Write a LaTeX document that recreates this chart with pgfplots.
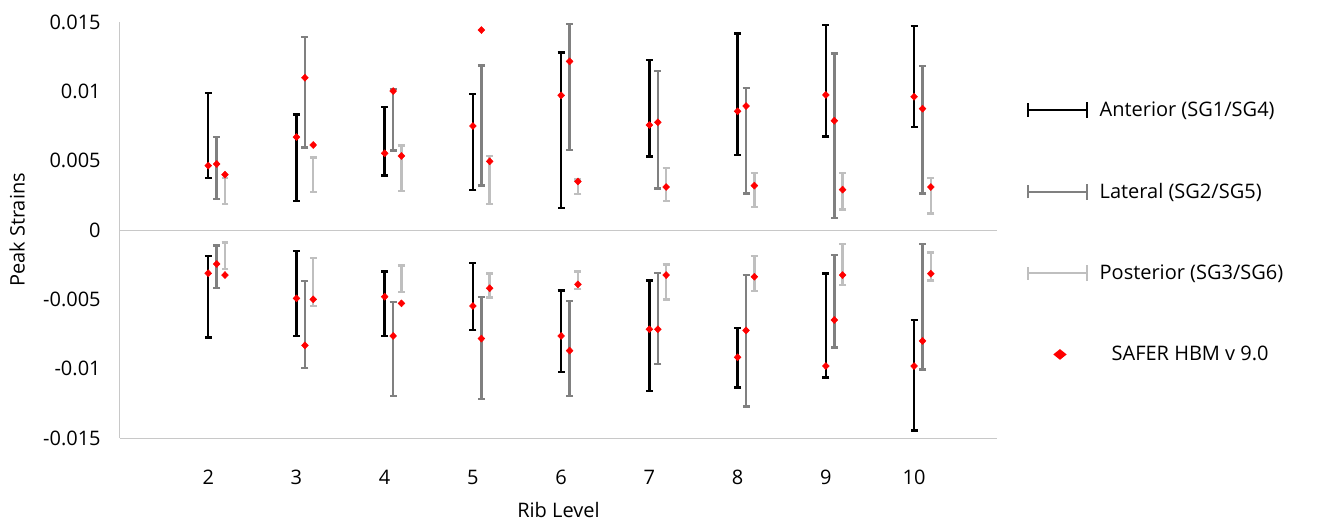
\documentclass[border=0pt]{standalone}
\usepackage{fontspec}
\setmainfont{Open Sans}
\usepackage{pgfplots}
\usepackage{pgfplotstable}
\pgfplotsset{compat=1.18}
\definecolor{Lat}{HTML}{808080}
\definecolor{Post}{HTML}{BFBFBF}
\definecolor{Safer}{HTML}{FF0000}
\definecolor{AxisGray}{HTML}{C8C8C8}

% rib level, lower and upper end of the test range, SAFER HBM value
\pgfplotstableread{
rib lo hi d
2 0.00373 0.00990 0.00464
3 0.00207 0.00834 0.00670
4 0.00392 0.00889 0.00553
5 0.00288 0.00979 0.00750
6 0.00159 0.01281 0.00971
7 0.00529 0.01224 0.00757
8 0.00539 0.01418 0.00856
9 0.00673 0.01478 0.00974
10 0.00743 0.01471 0.00961
2 -0.00774 -0.00188 -0.00312
3 -0.00764 -0.00151 -0.00493
4 -0.00764 -0.00300 -0.00481
5 -0.00721 -0.00240 -0.00548
6 -0.01026 -0.00437 -0.00764
7 -0.01161 -0.00365 -0.00716
8 -0.01135 -0.00707 -0.00918
9 -0.01065 -0.00315 -0.00981
10 -0.01447 -0.00649 -0.00981
}\anterior

\pgfplotstableread{
rib lo hi d
2 0.00224 0.00670 0.00476
3 0.00596 0.01390 0.01098
4 0.00572 0.01017 0.01002
5 0.00320 0.01185 0.01442
6 0.00575 0.01486 0.01216
7 0.00300 0.01147 0.00777
8 0.00264 0.01026 0.00894
9 0.00087 0.01274 0.00788
10 0.00264 0.01183 0.00875
2 -0.00420 -0.00113 -0.00245
3 -0.00997 -0.00368 -0.00832
4 -0.01197 -0.00519 -0.00764
5 -0.01219 -0.00483 -0.00783
6 -0.01197 -0.00512 -0.00870
7 -0.00966 -0.00308 -0.00716
8 -0.01274 -0.00325 -0.00724
9 -0.00846 -0.00180 -0.00649
10 -0.01005 -0.00103 -0.00800
}\lateral

\pgfplotstableread{
rib lo hi d
2 0.00187 0.00377 0.00399
3 0.00272 0.00522 0.00613
4 0.00281 0.00608 0.00534
5 0.00187 0.00534 0.00495
6 0.00260 0.00365 0.00350
7 0.00207 0.00445 0.00310
8 0.00168 0.00413 0.00320
9 0.00149 0.00409 0.00291
10 0.00120 0.00377 0.00310
2 -0.00281 -0.00091 -0.00325
3 -0.00546 -0.00200 -0.00500
4 -0.00447 -0.00257 -0.00529
5 -0.00488 -0.00315 -0.00420
6 -0.00425 -0.00298 -0.00392
7 -0.00500 -0.00248 -0.00325
8 -0.00440 -0.00188 -0.00337
9 -0.00397 -0.00103 -0.00325
10 -0.00365 -0.00163 -0.00315
}\posterior

\begin{document}
\begin{tikzpicture}
\begin{axis}[
    name=ax,
    scale only axis,
    width=657.75pt,
    height=312pt,
    xmin=1.0, xmax=10.94,
    ymin=-0.015, ymax=0.015,
    scaled y ticks=false,
    axis x line*=bottom,
    axis y line*=left,
    axis line style={draw=AxisGray, line width=0.75pt},
    xtick={2,...,10},
    xticklabels={2,3,4,5,6,7,8,9,10},
    ytick={-0.015,-0.01,-0.005,0,0.005,0.01,0.015},
    yticklabels={-0.015,-0.01,-0.005,0,0.005,0.01,0.015},
    major tick length=0pt,
    tick label style={font=\fontsize{15}{18}\selectfont},
    yticklabel style={xshift=-11pt},
    xticklabel style={yshift=-20.5pt},
    xlabel={Rib Level},
    ylabel={Peak Strains},
    every axis x label/.style={at={(axis description cs:0.5,-0.173)}, anchor=center,
        font=\fontsize{15}{18}\selectfont},
    every axis y label/.style={at={(axis description cs:-0.1174,0.5)}, rotate=90, anchor=center,
        font=\fontsize{15}{18}\selectfont},
    extra y ticks={0},
    extra y tick labels={},
    extra y tick style={grid=major, major grid style={draw=AxisGray, line width=0.75pt}},
    legend style={at={(axis description cs:1.0293,0.822)}, anchor=north west,
        draw=none, fill=none, font=\fontsize{15}{18}\selectfont, row sep=44.5pt},
    legend cell align=left,
    clip=false,
]
\addplot[draw=none, mark=none,
    legend image code/.code={
        \draw[black, line width=1.5pt] (0pt,0pt) -- (44pt,0pt);
        \draw[black, line width=1.5pt] (0pt,-5pt) -- (0pt,5pt);
        \draw[black, line width=1.5pt] (44pt,-6pt) -- (44pt,6pt);},
    error bars/.cd, y dir=both, y explicit,
    error bar style={draw=black, line width=1.8pt},
    error mark options={rotate=90, draw=black, line width=1.8pt, mark size=2.6pt}]
    table[x=rib, y expr=(\thisrow{lo}+\thisrow{hi})/2, y error expr=(\thisrow{hi}-\thisrow{lo})/2] {\anterior};
\addlegendentry{\hspace{7pt}Anterior (SG1/SG4)}
\addplot[draw=none, mark=none,
    legend image code/.code={
        \draw[Lat, line width=1.5pt] (0pt,0pt) -- (44pt,0pt);
        \draw[Lat, line width=1.5pt] (0pt,-5pt) -- (0pt,5pt);
        \draw[Lat, line width=1.5pt] (44pt,-6pt) -- (44pt,6pt);},
    error bars/.cd, y dir=both, y explicit,
    error bar style={draw=Lat, line width=1.8pt},
    error mark options={rotate=90, draw=Lat, line width=1.8pt, mark size=2.6pt}]
    table[x expr=\thisrow{rib}+0.096, y expr=(\thisrow{lo}+\thisrow{hi})/2, y error expr=(\thisrow{hi}-\thisrow{lo})/2] {\lateral};
\addlegendentry{\hspace{7pt}Lateral (SG2/SG5)}
\addplot[draw=none, mark=none,
    legend image code/.code={
        \draw[Post, line width=1.5pt] (0pt,0pt) -- (44pt,0pt);
        \draw[Post, line width=1.5pt] (0pt,-5pt) -- (0pt,5pt);
        \draw[Post, line width=1.5pt] (44pt,-6pt) -- (44pt,6pt);},
    error bars/.cd, y dir=both, y explicit,
    error bar style={draw=Post, line width=1.8pt},
    error mark options={rotate=90, draw=Post, line width=1.8pt, mark size=2.6pt}]
    table[x expr=\thisrow{rib}+0.19, y expr=(\thisrow{lo}+\thisrow{hi})/2, y error expr=(\thisrow{hi}-\thisrow{lo})/2] {\posterior};
\addlegendentry{\hspace{7pt}Posterior (SG3/SG6)}
% SAFER HBM values on top of the ranges
\addplot[only marks, mark=diamond*, mark size=2.6pt, color=Safer, mark options={xscale=1.3}, forget plot]
    table[x=rib, y=d] {\anterior};
\addplot[only marks, mark=diamond*, mark size=2.6pt, color=Safer, mark options={xscale=1.3}, forget plot]
    table[x expr=\thisrow{rib}+0.096, y=d] {\lateral};
\addplot[only marks, mark=diamond*, mark size=2.6pt, color=Safer, mark options={xscale=1.3},
    legend image code/.code={
        \path[draw=none, fill=none] (0pt,-1pt) rectangle (44pt,1pt);
        \fill[Safer, draw=none] (24pt,4pt) -- (29pt,0pt) -- (24pt,-4pt) -- (19pt,0pt) -- cycle;}]
    table[x expr=\thisrow{rib}+0.19, y=d] {\posterior};
\addlegendentry{\hspace{16pt}SAFER HBM v 9.0}
\end{axis}
\pgfresetboundingbox
\path ([shift={(-90pt,-65.25pt)}]ax.south west) rectangle ([shift={(249.75pt,16.5pt)}]ax.north east);
\end{tikzpicture}
\end{document}
